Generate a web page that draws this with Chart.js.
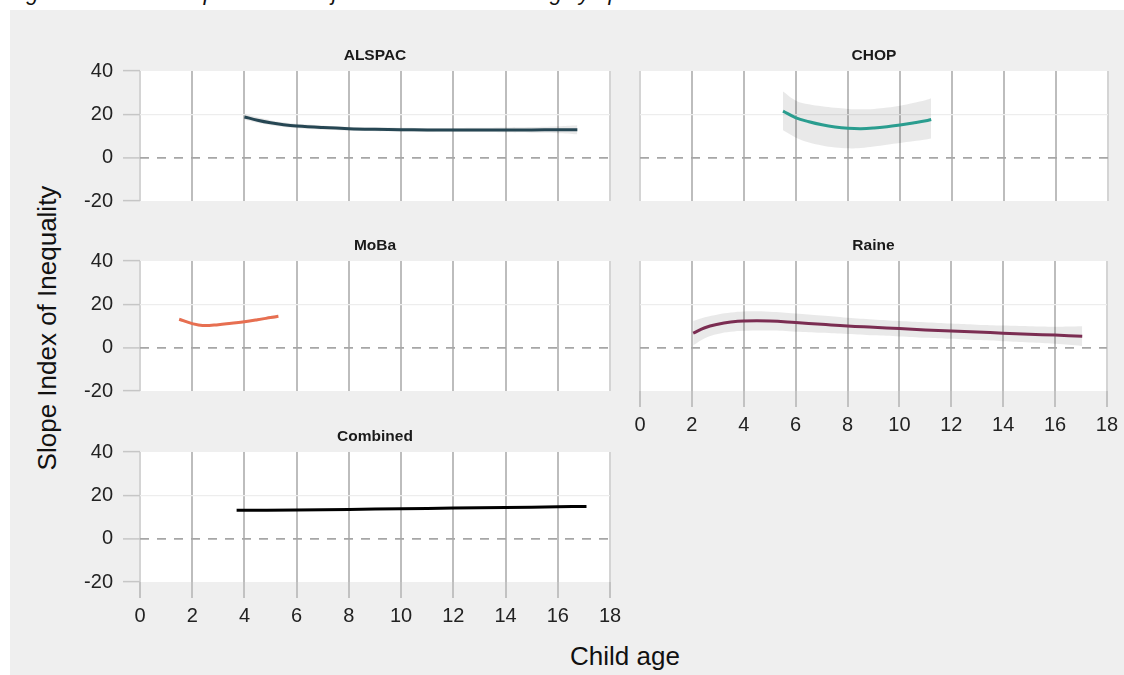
<!DOCTYPE html>
<html>
<head>
<meta charset="utf-8">
<script src="https://cdn.jsdelivr.net/npm/chart.js@4.4.0/dist/chart.umd.min.js"></script>
<style>
  body{margin:0;background:#fff;width:1124px;height:675px;overflow:hidden;position:relative;font-family:"Liberation Sans",Arial,sans-serif;}
  #bg{position:absolute;left:10px;top:10px;width:1114px;height:665px;background:#efefef;}
  canvas{position:absolute;left:0;top:0;}
  #hdr{position:absolute;left:8px;top:-18px;font-style:italic;font-size:22px;line-height:22px;white-space:nowrap;color:#111;}
  #ytitle{position:absolute;left:-153px;top:315px;width:400px;height:26px;line-height:26px;font-size:26px;text-align:center;color:#111;transform:rotate(-90deg);white-space:nowrap;}
  #xtitle{position:absolute;left:425px;top:643px;width:400px;height:26px;line-height:26px;font-size:26px;text-align:center;color:#111;white-space:nowrap;}
</style>
</head>
<body>
<div id="hdr">Figure 1: Social inequalities in trajectories of internalising symptoms</div>
<div id="bg"></div>
<div id="ytitle">Slope Index of Inequality</div>
<div id="xtitle">Child age</div>
<script>
// ---- tick labels ----
const ageTicks = [0, 2, 4, 6, 8, 10, 12, 14, 16, 18];
const siiTicks = [-20, 0, 20, 40];
const siiTickLabels = ['-20', '0', '20', '40'];
const cohorts = ['ALSPAC', 'CHOP', 'MoBa', 'Raine', 'Combined'];

// ---- ALSPAC ----
const alspacAge   = [4, 4.5, 5, 5.5, 6, 7, 8, 9, 10, 11, 12, 13, 14, 15, 16, 16.75];
const alspacSII   = [18.8, 17.3, 16.1, 15.2, 14.6, 13.9, 13.4, 13.1, 12.9, 12.8, 12.8, 12.8, 12.8, 12.8, 12.9, 12.9];
const alspacLower = [17.5, 16.1, 15.0, 14.2, 13.6, 12.9, 12.5, 12.2, 12.0, 11.9, 11.9, 11.8, 11.7, 11.5, 11.3, 10.8];
const alspacUpper = [20.1, 18.6, 17.3, 16.3, 15.6, 14.9, 14.3, 14.0, 13.8, 13.7, 13.7, 13.8, 13.9, 14.1, 14.5, 15.0];

// ---- CHOP ----
const chopAge   = [5.5, 6, 6.5, 7, 7.5, 8, 8.5, 9, 9.5, 10, 10.5, 11, 11.2];
const chopSII   = [21.5, 18.4, 16.6, 15.2, 14.2, 13.6, 13.4, 13.7, 14.3, 15.1, 16.0, 17.0, 17.6];
const chopLower = [12.6, 9.2, 7.0, 5.6, 4.7, 4.3, 4.5, 5.2, 6.0, 6.8, 7.6, 8.4, 8.8];
const chopUpper = [30.5, 26.3, 24.6, 23.7, 23.0, 22.5, 22.3, 22.5, 23.1, 24.0, 25.2, 26.6, 27.4];

// ---- MoBa ----
const mobaAge   = [1.5, 2, 2.4, 3, 3.5, 4, 4.5, 5, 5.3];
const mobaSII   = [13.1, 11.1, 10.2, 10.6, 11.3, 12.0, 12.9, 13.9, 14.5];
const mobaLower = [12.4, 10.6, 9.8, 10.2, 10.9, 11.5, 12.3, 13.2, 13.7];
const mobaUpper = [13.8, 11.6, 10.6, 11.0, 11.7, 12.5, 13.5, 14.6, 15.3];

// ---- Raine ----
const raineAge   = [2.05, 2.5, 3, 3.5, 4, 5, 6, 7, 8, 9, 10, 11, 12, 13, 14, 15, 16, 17.05];
const raineSII   = [6.7, 9.2, 10.8, 11.8, 12.3, 12.3, 11.6, 10.8, 10.0, 9.4, 8.8, 8.2, 7.7, 7.2, 6.7, 6.2, 5.8, 5.3];
const raineLower = [1.1, 4.4, 6.3, 7.3, 7.8, 7.9, 7.4, 6.9, 6.3, 5.7, 5.2, 4.6, 4.1, 3.5, 3.0, 2.4, 1.8, 0.8];
const raineUpper = [12.3, 14.0, 15.3, 16.2, 16.7, 16.6, 15.8, 14.8, 13.8, 13.0, 12.3, 11.7, 11.1, 10.6, 10.2, 9.9, 9.7, 9.9];

// ---- Combined ----
const combinedAge = [3.7, 6, 8, 10, 12, 14, 16, 17.1];
const combinedSII = [13.1, 13.2, 13.5, 13.8, 14.1, 14.4, 14.7, 14.9];

const lineColors = {ALSPAC:'#264653', CHOP:'#2a9d8f', MoBa:'#e76f51', Raine:'#7b2d52', Combined:'#000000'};

const series = {
  ALSPAC:   {age: alspacAge, sii: alspacSII, lo: alspacLower, hi: alspacUpper},
  CHOP:     {age: chopAge, sii: chopSII, lo: chopLower, hi: chopUpper},
  MoBa:     {age: mobaAge, sii: mobaSII, lo: mobaLower, hi: mobaUpper},
  Raine:    {age: raineAge, sii: raineSII, lo: raineLower, hi: raineUpper},
  Combined: {age: combinedAge, sii: combinedSII, lo: null, hi: null}
};

// panel placement (layout only)
const boxes = {
  ALSPAC:   {left:140, right:610,  top:71,  bottom:201, yLab:true,  xLab:false},
  CHOP:     {left:640, right:1108, top:71,  bottom:201, yLab:false, xLab:false},
  MoBa:     {left:140, right:610,  top:261, bottom:391, yLab:true,  xLab:false},
  Raine:    {left:640, right:1108, top:261, bottom:391, yLab:false, xLab:true},
  Combined: {left:140, right:610,  top:452, bottom:582, yLab:true,  xLab:true}
};

const W = 1124, H = 675;
const FONT = '"Liberation Sans", Arial, sans-serif';

const panelBg = {
  id: 'panelBg',
  beforeDraw(chart) {
    const {ctx, chartArea: a} = chart;
    ctx.save();
    ctx.fillStyle = '#ffffff';
    ctx.fillRect(a.left, a.top, a.right - a.left, a.bottom - a.top);
    ctx.restore();
  }
};
const strip = {
  id: 'strip',
  afterDraw(chart, args, opts) {
    const {ctx, chartArea: a} = chart;
    ctx.save();
    ctx.font = 'bold 15.5px ' + FONT;
    ctx.fillStyle = '#1a1a1a';
    ctx.textAlign = 'center';
    ctx.textBaseline = 'middle';
    ctx.fillText(opts.text, (a.left + a.right) / 2, a.top - 15.5);
    ctx.restore();
  }
};

const pts = (xs, ys) => xs.map((x, i) => ({x: x, y: ys[i]}));

cohorts.forEach(name => {
  const b = boxes[name];
  const s = series[name];
  const yW = b.yLab ? 80 : 0;
  const xH = b.xLab ? 50 : 0;
  const cv = document.createElement('canvas');
  cv.width = W; cv.height = H;
  document.body.appendChild(cv);

  const datasets = [{
    data: pts(s.age, s.sii),
    borderColor: lineColors[name],
    borderWidth: 3,
    pointRadius: 0,
    fill: false,
    tension: 0.4
  }];
  if (s.hi) {
    datasets.push({
      data: pts(s.age, s.hi),
      borderWidth: 0, borderColor: 'rgba(0,0,0,0)',
      backgroundColor: 'rgba(0,0,0,0.085)',
      pointRadius: 0, fill: '+1', tension: 0.4
    });
    datasets.push({
      data: pts(s.age, s.lo),
      borderWidth: 0, borderColor: 'rgba(0,0,0,0)',
      pointRadius: 0, fill: false, tension: 0.4
    });
  }

  new Chart(cv, {
    type: 'line',
    data: {datasets},
    plugins: [panelBg, strip],
    options: {
      responsive: false,
      animation: false,
      devicePixelRatio: 1,
      events: [],
      layout: {padding: {left: b.left - yW, top: b.top, right: W - b.right, bottom: H - b.bottom - xH}},
      plugins: {legend: {display: false}, tooltip: {enabled: false}, strip: {text: name}},
      scales: {
        x: {
          type: 'linear', min: 0, max: 18,
          afterBuildTicks: sc => { sc.ticks = ageTicks.map(v => ({value: v})); },
          afterFit: sc => { sc.height = xH; },
          ticks: {display: b.xLab, font: {size: 20, family: FONT}, color: '#222', padding: 6, maxRotation: 0, autoSkip: false,
                  callback: v => String(v)},
          grid: {
            color: c => (c.tick && (c.tick.value === 0 || c.tick.value === 18)) ? '#d4d4d4' : '#bdbdbd',
            lineWidth: 2,
            drawTicks: b.xLab,
            tickLength: 16,
            tickColor: '#c2c2c2',
            tickWidth: 2
          },
          border: {display: false}
        },
        y: {
          type: 'linear', min: -20, max: 40,
          afterBuildTicks: sc => { sc.ticks = siiTicks.map(v => ({value: v})); },
          afterFit: sc => { sc.width = yW; },
          ticks: {display: b.yLab, font: {size: 20, family: FONT}, color: '#222', padding: 10,
                  callback: v => siiTickLabels[siiTicks.indexOf(v)]},
          grid: {
            color: c => !c.tick ? 'rgba(0,0,0,0)' : (c.tick.value === 0 ? '#a6a6a6' : (c.tick.value === 20 ? '#ededed' : 'rgba(0,0,0,0)')),
            lineWidth: c => (c.tick && c.tick.value === 0) ? 1.8 : 1.2,
            drawTicks: b.yLab,
            tickLength: 17,
            tickColor: '#c6c6c6',
            tickWidth: 1.5
          },
          border: {display: false, dash: c => (c.tick && c.tick.value === 0) ? [9, 8] : []}
        }
      }
    }
  });
});
</script>
</body>
</html>
